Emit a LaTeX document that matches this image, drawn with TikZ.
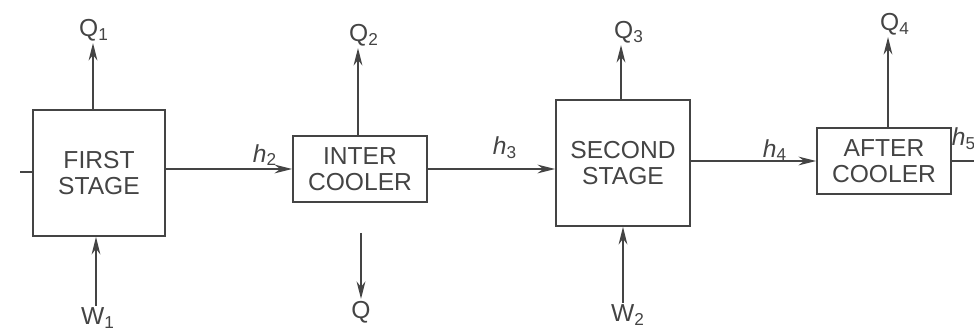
\documentclass[tikz,border=0pt]{standalone}
\usepackage{fontspec}
\setmainfont{Liberation Sans}
\usepackage{tikz}
\usetikzlibrary{arrows.meta}
\definecolor{inkGray}{HTML}{444444}

\begin{document}
\begin{tikzpicture}[x=0.02cm, y=-0.02cm,
  wire/.style={draw=inkGray, line width=1.1pt},
  unitbox/.style={draw=inkGray, line width=1.1pt, minimum width=2.68cm,
                  align=center, font=\fontsize{14}{15}\selectfont, text=inkGray},
  stagebox/.style={unitbox, minimum height=2.52cm},
  coolerbox/.style={unitbox, minimum height=1.32cm},
  lbl/.style={font=\fontsize{14}{16}\selectfont, text=inkGray, inner sep=1pt},
  flow/.style={wire, -{Stealth[length=10pt, width=5pt]}},
]
  \useasboundingbox (0,0) rectangle (974,333);
  \clip (0,0) rectangle (974,333);

  % units
  \node[stagebox, minimum width=2.64cm] (first) at (99,173) {FIRST\\STAGE};
  \node[coolerbox] (inter) at (360,169) {INTER\\COOLER};
  \node[stagebox] (second) at (623,163) {SECOND\\STAGE};
  \node[coolerbox] (after) at (884,161) {AFTER\\COOLER};

  % heat and work labels
  \node[lbl] (q1) at (94,30) {Q\textsubscript{1}};
  \node[lbl] (q2) at (364,35) {Q\textsubscript{2}};
  \node[lbl] (q3) at (629,32) {Q\textsubscript{3}};
  \node[lbl] (q4) at (895,24) {Q\textsubscript{4}};
  \node[lbl] (qout) at (361,312) {Q};
  \node[lbl] (w1) at (98,318) {W\textsubscript{1}};
  \node[lbl] (w2) at (628,315) {W\textsubscript{2}};
  \node[lbl] (h2) at (265,155) {\textit{h}\textsubscript{2}};
  \node[lbl] (h3) at (505,148) {\textit{h}\textsubscript{3}};
  \node[lbl] (h4) at (775,150) {\textit{h}\textsubscript{4}};
  \node[lbl] (h5) at (964,139) {\textit{h}\textsubscript{5}};

  \coordinate (h1start) at (20,172);
  \coordinate (qstart) at (361,233);
  \coordinate (h5end) at (974,161);

  % main flow
  \draw[wire] (h1start) -- (h1start -| first.west);
  \draw[flow] (first.east |- inter.west) -- (inter.west);
  \draw[flow] (inter.east) -- (inter.east -| second.west);
  \draw[flow] (second.east |- after.west) -- (after.west);
  \draw[wire] (after.east) -- (h5end);

  % heat out, work in
  \draw[flow] (first.north -| 93,0) -- (q1.south -| 93,0);
  \draw[flow] (inter.north -| 358,0) -- (q2.south -| 358,0);
  \draw[flow] (second.north -| 621,0) -- (q3.south -| 621,0);
  \draw[flow] (after.north -| 888,0) -- (q4.south -| 888,0);
  \draw[flow] (qstart) -- (qout.north);
  \draw[flow] (w1.north -| 96,0) -- (first.south -| 96,0);
  \draw[flow] (w2.north -| 623,0) -- (second.south -| 623,0);
\end{tikzpicture}
\end{document}
